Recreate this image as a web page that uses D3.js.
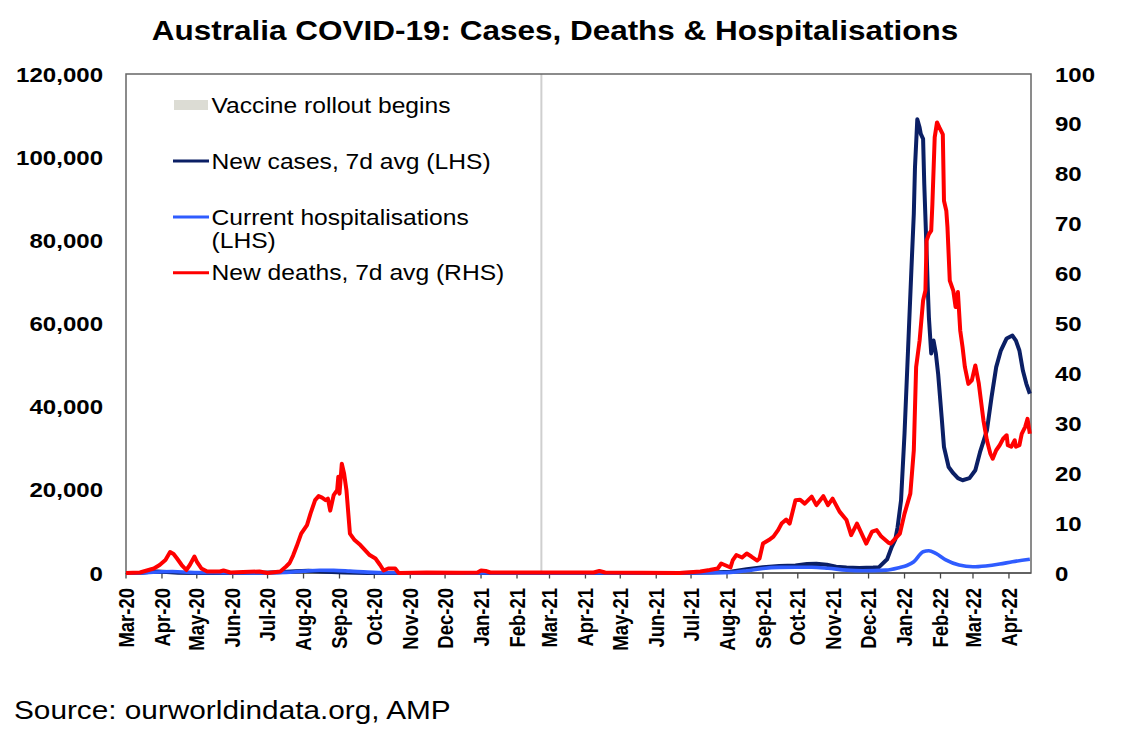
<!DOCTYPE html>
<html>
<head>
<meta charset="utf-8">
<script src="https://cdn.jsdelivr.net/npm/d3@7"></script>
<style>
  html, body { margin: 0; padding: 0; background: #fff; }
  svg { display: block; font-family: "Liberation Sans", Arial, sans-serif; }
</style>
</head>
<body>
<svg id="chart" width="1122" height="742"></svg>
<script>
// ---------------- DATA ----------------
const titleText = "Australia COVID-19: Cases, Deaths & Hospitalisations";
const sourceText = "Source: ourworldindata.org, AMP";
const vaccineDate = "2021-02-22";
const leftTicks = [0, 20000, 40000, 60000, 80000, 100000, 120000];
const rightTicks = [0, 10, 20, 30, 40, 50, 60, 70, 80, 90, 100];

// New cases, 7d avg (LHS)
const cases = [
  ["2020-03-01",2],["2020-03-15",60],["2020-03-22",300],["2020-03-28",380],["2020-04-05",250],
  ["2020-04-15",50],["2020-05-01",15],["2020-06-01",10],["2020-06-25",40],["2020-07-10",200],
  ["2020-07-25",450],["2020-08-05",550],["2020-08-20",300],["2020-09-05",100],["2020-09-25",20],
  ["2020-10-15",10],["2020-12-01",8],["2020-12-25",20],["2021-01-05",25],["2021-01-20",5],
  ["2021-06-21",20],["2021-07-19",100],["2021-08-04",300],["2021-08-18",900],["2021-09-01",1400],
  ["2021-09-15",1700],["2021-09-29",1800],["2021-10-09",2150],["2021-10-17",2250],["2021-10-26",2000],
  ["2021-11-03",1500],["2021-11-12",1300],["2021-11-23",1200],["2021-12-05",1300],["2021-12-10",1400],
  ["2021-12-17",3300],["2021-12-21",6300],["2021-12-24",8000],["2021-12-26",11000],["2021-12-29",17500],
  ["2022-01-01",33600],["2022-01-04",53500],["2022-01-07",73500],["2022-01-09",86400],["2022-01-10",97500],
  ["2022-01-12",109100],["2022-01-14",107100],["2022-01-15",105600],["2022-01-17",104400],["2022-01-18",93600],
  ["2022-01-20",77500],["2022-01-21",68700],["2022-01-22",61500],["2022-01-24",52800],["2022-01-26",55900],
  ["2022-01-28",52800],["2022-01-30",47800],["2022-02-02",37500],["2022-02-04",30300],["2022-02-08",25500],
  ["2022-02-12",24000],["2022-02-16",22800],["2022-02-20",22300],["2022-02-26",22800],["2022-03-03",24700],
  ["2022-03-07",29000],["2022-03-13",34300],["2022-03-17",42300],["2022-03-21",49500],["2022-03-25",53500],
  ["2022-03-30",56400],["2022-04-04",57100],["2022-04-07",55900],["2022-04-10",53500],["2022-04-13",48700],
  ["2022-04-16",45500],["2022-04-19",43100]
];

// Current hospitalisations (LHS)
const hospital = [
  ["2020-03-01",0],["2020-03-15",20],["2020-04-01",300],["2020-04-10",350],["2020-04-25",150],
  ["2020-05-15",50],["2020-06-10",20],["2020-07-01",30],["2020-07-17",150],["2020-08-01",450],
  ["2020-08-15",650],["2020-08-27",640],["2020-09-10",450],["2020-09-25",200],["2020-10-15",50],
  ["2020-11-10",15],["2021-06-21",20],["2021-07-19",50],["2021-08-04",150],["2021-08-18",550],
  ["2021-09-01",1100],["2021-09-15",1350],["2021-09-29",1400],["2021-10-13",1400],["2021-10-27",1150],
  ["2021-11-12",700],["2021-11-26",550],["2021-12-16",700],["2021-12-28",1350],["2022-01-03",1800],
  ["2022-01-09",2700],["2022-01-17",5100],["2022-01-22",5350],["2022-01-28",4700],["2022-02-06",3100],
  ["2022-02-17",1900],["2022-03-01",1500],["2022-03-12",1700],["2022-03-24",2150],["2022-04-04",2700],
  ["2022-04-19",3300]
];

// New deaths, 7d avg (RHS)
const deaths = [
  ["2020-03-01",0],["2020-03-13",0.1],["2020-03-19",0.5],["2020-03-25",0.9],["2020-03-30",1.6],
  ["2020-04-04",2.6],["2020-04-08",4.2],["2020-04-11",3.8],["2020-04-14",2.9],["2020-04-18",1.6],
  ["2020-04-22",0.6],["2020-04-25",1.6],["2020-04-29",3.3],["2020-05-01",2.3],["2020-05-05",0.9],
  ["2020-05-10",0.3],["2020-05-21",0.3],["2020-05-24",0.5],["2020-05-30",0.1],["2020-06-24",0.3],
  ["2020-07-01",0],["2020-07-12",0.3],["2020-07-17",1.3],["2020-07-20",2.0],["2020-07-23",3.5],
  ["2020-07-26",5.3],["2020-07-30",7.9],["2020-08-04",9.6],["2020-08-07",11.9],["2020-08-11",14.6],
  ["2020-08-14",15.4],["2020-08-17",15.1],["2020-08-20",14.6],["2020-08-22",14.9],["2020-08-24",12.5],
  ["2020-08-27",15.6],["2020-08-30",16.6],["2020-08-31",19.3],["2020-09-01",15.9],["2020-09-03",21.9],
  ["2020-09-05",19.9],["2020-09-07",16.6],["2020-09-10",7.9],["2020-09-14",6.6],["2020-09-19",5.6],
  ["2020-09-23",4.6],["2020-09-27",3.6],["2020-10-02",2.9],["2020-10-06",1.6],["2020-10-09",0.5],
  ["2020-10-13",0.9],["2020-10-19",0.9],["2020-10-22",0],["2020-11-15",0.1],["2020-12-15",0.05],
  ["2020-12-29",0.1],["2021-01-01",0.5],["2021-01-05",0.4],["2021-01-09",0.1],["2021-04-08",0.1],
  ["2021-04-13",0.4],["2021-04-18",0.1],["2021-06-21",0],["2021-07-09",0.3],["2021-07-17",0.6],
  ["2021-07-24",0.9],["2021-07-27",1.9],["2021-07-30",1.6],["2021-08-04",1.1],["2021-08-06",2.6],
  ["2021-08-09",3.6],["2021-08-14",3.1],["2021-08-18",3.9],["2021-08-22",3.3],["2021-08-27",2.5],
  ["2021-08-29",2.9],["2021-09-01",5.9],["2021-09-06",6.6],["2021-09-10",7.3],["2021-09-14",8.6],
  ["2021-09-17",9.9],["2021-09-21",10.7],["2021-09-24",9.9],["2021-09-29",14.6],["2021-10-03",14.7],
  ["2021-10-07",13.9],["2021-10-13",15.3],["2021-10-17",13.6],["2021-10-23",15.4],["2021-10-27",13.6],
  ["2021-10-31",14.9],["2021-11-06",12.3],["2021-11-12",10.6],["2021-11-16",7.6],["2021-11-21",9.9],
  ["2021-11-25",7.9],["2021-11-29",5.9],["2021-12-04",8.3],["2021-12-08",8.6],["2021-12-12",7.3],
  ["2021-12-18",6.1],["2021-12-20",5.9],["2021-12-24",6.9],["2021-12-28",7.9],["2022-01-01",11.9],
  ["2022-01-06",15.9],["2022-01-09",24.6],["2022-01-11",41.3],["2022-01-14",46.6],["2022-01-17",54.6],
  ["2022-01-19",56.6],["2022-01-20",66.6],["2022-01-22",67.9],["2022-01-24",68.6],["2022-01-25",73.9],
  ["2022-01-27",87.3],["2022-01-29",90.3],["2022-01-31",89.3],["2022-02-03",87.9],["2022-02-04",74.6],
  ["2022-02-06",72.6],["2022-02-07",69.3],["2022-02-09",58.6],["2022-02-12",56.6],["2022-02-14",53.3],
  ["2022-02-16",56.3],["2022-02-18",48.6],["2022-02-20",45.3],["2022-02-22",41.3],["2022-02-25",37.9],
  ["2022-02-28",38.6],["2022-03-03",41.6],["2022-03-06",38.0],["2022-03-10",30.6],["2022-03-13",26.6],
  ["2022-03-16",23.9],["2022-03-18",22.9],["2022-03-21",24.6],["2022-03-24",25.6],["2022-03-27",26.9],
  ["2022-03-30",27.6],["2022-03-31",25.6],["2022-04-03",25.3],["2022-04-06",26.6],["2022-04-07",25.3],
  ["2022-04-10",25.6],["2022-04-12",27.9],["2022-04-15",29.3],["2022-04-17",30.9],["2022-04-19",27.9]
];

const legendItems = [
  {label: ["Vaccine rollout begins"], type: "rect", color: "#dcdcd4"},
  {label: ["New cases, 7d avg (LHS)"], type: "line", color: "#0b1f65"},
  {label: ["Current hospitalisations", "(LHS)"], type: "line", color: "#2f5cff"},
  {label: ["New deaths, 7d avg (RHS)"], type: "line", color: "#ff0000"}
];

// ---------------- LAYOUT ----------------
const parse = d3.timeParse("%Y-%m-%d");
const M = {left: 126, right: 1031, top: 74, bottom: 573};
const SX = 1.145; // horizontal stretch of the reference text

const svg = d3.select("#chart");

const x = d3.scaleTime()
  .domain([parse("2020-03-01"), parse("2022-04-20")])
  .range([M.left, M.right]);
const yL = d3.scaleLinear().domain([0, 120000]).range([M.bottom, M.top]);
const yR = d3.scaleLinear().domain([0, 100]).range([M.bottom, M.top]);

function stretchedText(g, tx, ty, txt, opts) {
  const t = g.append("text")
    .attr("transform", `translate(${tx},${ty}) scale(${SX},1)` + (opts.rotate ? ` rotate(${opts.rotate})` : ""))
    .attr("text-anchor", opts.anchor || "start")
    .attr("font-size", opts.size)
    .attr("font-weight", opts.weight || "normal")
    .attr("fill", "#000")
    .text(txt);
  if (opts.dy) t.attr("dy", opts.dy);
  return t;
}

// Title
stretchedText(svg, 555, 39.5, titleText, {anchor: "middle", size: 27.5, weight: "bold"});

// Vaccine rollout line
svg.append("line")
  .attr("x1", x(parse(vaccineDate))).attr("x2", x(parse(vaccineDate)))
  .attr("y1", M.top).attr("y2", M.bottom)
  .attr("stroke", "#cfcfcf").attr("stroke-width", 2);

// Plot frame
svg.append("rect")
  .attr("x", M.left).attr("y", M.top)
  .attr("width", M.right - M.left).attr("height", M.bottom - M.top)
  .attr("fill", "none").attr("stroke", "#666").attr("stroke-width", 1.5);

// Left axis labels
const gl = svg.append("g");
leftTicks.forEach(v => {
  stretchedText(gl, 103, yL(v), d3.format(",")(v), {anchor: "end", size: 21, weight: "bold", dy: "0.36em"});
});
// Right axis labels
const gr = svg.append("g");
rightTicks.forEach(v => {
  stretchedText(gr, 1055, yR(v), String(v), {anchor: "start", size: 21, weight: "bold", dy: "0.36em"});
});

// Bottom axis ticks and labels
const months = d3.timeMonth.range(parse("2020-03-01"), parse("2022-04-20"));
const fmt = d3.timeFormat("%b-%y");
const gx = svg.append("g");
gx.append("line").attr("x1", M.left).attr("x2", M.right).attr("y1", M.bottom).attr("y2", M.bottom)
  .attr("stroke", "#555").attr("stroke-width", 1.5);
months.forEach(m => {
  gx.append("line").attr("x1", x(m)).attr("x2", x(m)).attr("y1", M.bottom).attr("y2", M.bottom + 5.5)
    .attr("stroke", "#444").attr("stroke-width", 1.3);
  stretchedText(gx, x(m), 588, fmt(m), {anchor: "end", size: 18.5, weight: "bold", rotate: -90, dy: "0.36em"});
});

// Lines
const lineL = d3.line().x(d => x(parse(d[0]))).y(d => yL(d[1]));
const lineLsmooth = d3.line().x(d => x(parse(d[0]))).y(d => yL(d[1])).curve(d3.curveMonotoneX);
const lineR = d3.line().x(d => x(parse(d[0]))).y(d => yR(d[1]));

svg.append("path").datum(cases).attr("d", lineL)
  .attr("fill", "none").attr("stroke", "#0b1f65").attr("stroke-width", 4).attr("stroke-linejoin", "round");
svg.append("path").datum(hospital).attr("d", lineLsmooth)
  .attr("fill", "none").attr("stroke", "#2f5cff").attr("stroke-width", 3.6).attr("stroke-linejoin", "round");
svg.append("path").datum(deaths).attr("d", lineR)
  .attr("fill", "none").attr("stroke", "#ff0000").attr("stroke-width", 4).attr("stroke-linejoin", "round");

// Legend
const legendRows = [105, 161, 217, 272.7];
const lg = svg.append("g");
legendItems.forEach((it, i) => {
  const cy = legendRows[i];
  if (it.type === "rect") {
    lg.append("rect").attr("x", 174).attr("y", cy - 5).attr("width", 34).attr("height", 10).attr("fill", it.color);
  } else {
    lg.append("line").attr("x1", 173).attr("x2", 209).attr("y1", cy).attr("y2", cy)
      .attr("stroke", it.color).attr("stroke-width", 3);
  }
  it.label.forEach((s, j) => {
    stretchedText(lg, 211.5, cy + j * 23, s, {anchor: "start", size: 21.5, dy: "0.36em"});
  });
});

// Source
stretchedText(svg, 14, 718.5, sourceText, {anchor: "start", size: 26});
</script>
</body>
</html>
